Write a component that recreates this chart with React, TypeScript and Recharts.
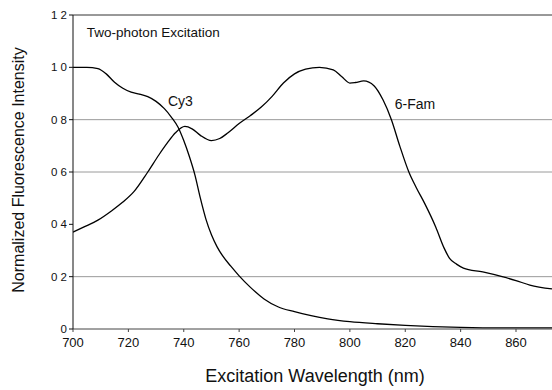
import { LineChart, Line, XAxis, YAxis, ReferenceLine, ReferenceDot } from "recharts";

// Cy3 two-photon excitation spectrum
const cy3Wavelength = [700, 705, 709, 712, 715, 718, 721, 724, 727, 730, 733, 735.5, 738, 740, 742, 744, 746, 748, 750, 752, 754, 757, 760, 764, 769, 774, 780, 786, 792, 800, 810, 820, 830, 840, 855, 873];
const cy3Intensity = [1.0, 1.0, 0.995, 0.975, 0.943, 0.92, 0.905, 0.898, 0.888, 0.87, 0.842, 0.81, 0.77, 0.72, 0.66, 0.59, 0.5, 0.42, 0.36, 0.315, 0.28, 0.24, 0.203, 0.16, 0.115, 0.085, 0.066, 0.051, 0.039, 0.028, 0.02, 0.014, 0.009, 0.006, 0.004, 0.004];

// 6-Fam two-photon excitation spectrum
const famWavelength = [700, 704, 709, 714, 718, 722, 727, 731, 734, 737, 740.4, 743, 746, 750, 753, 756, 760, 764, 768, 772, 776, 780, 784, 789, 794, 797, 800, 802, 805, 808.7, 812, 815, 818, 821.3, 824, 827, 831, 834, 836, 838.5, 841, 848, 855, 860, 865, 873];
const famIntensity = [0.37, 0.39, 0.416, 0.452, 0.485, 0.525, 0.6, 0.665, 0.71, 0.75, 0.774, 0.765, 0.74, 0.72, 0.728, 0.75, 0.785, 0.815, 0.848, 0.89, 0.94, 0.975, 0.993, 1.0, 0.99, 0.965, 0.94, 0.942, 0.948, 0.93, 0.875, 0.8, 0.7, 0.6, 0.54, 0.48, 0.39, 0.31, 0.27, 0.248, 0.233, 0.218, 0.2, 0.185, 0.168, 0.153];

const xTicks = [700, 720, 740, 760, 780, 800, 820, 840, 860];
const yTicks = [0, 0.2, 0.4, 0.6, 0.8, 1.0, 1.2];
const gridValues = [0.2, 0.6, 0.8];

const cy3Data = cy3Wavelength.map((x, i) => ({ x, y: cy3Intensity[i] }));
const famData = famWavelength.map((x, i) => ({ x, y: famIntensity[i] }));

const font = "'Liberation Sans', Arial, Helvetica, sans-serif";

// scanned labels lost their decimal points: "0 8", "1 0"
const formatY = (v: number) => (v === 0 ? "0" : v.toFixed(1).replace(".", " "));

function YTitle() {
  return (
    <text
      x={18}
      y={170}
      transform="rotate(-90 18 170)"
      textAnchor="middle"
      dominantBaseline="central"
      fontSize={16}
      fill="#111"
      fontFamily={font}
    >
      Normalized Fluorescence Intensity
    </text>
  );
}

function XTitle() {
  return (
    <text
      x={315}
      y={376}
      textAnchor="middle"
      dominantBaseline="central"
      fontSize={18}
      fill="#111"
      fontFamily={font}
    >
      Excitation Wavelength (nm)
    </text>
  );
}

export default function App() {
  return (
    <div style={{ position: "absolute", left: 0, top: 0, background: "#fff" }}>
      <LineChart
        width={552}
        height={390}
        margin={{ top: 15, right: 0, bottom: 0, left: 0 }}
        style={{ fontFamily: font }}
      >
        <XAxis
          type="number"
          dataKey="x"
          domain={[700, 873]}
          ticks={xTicks}
          allowDataOverflow
          height={61}
          tickSize={3}
          tickMargin={6}
          stroke="#444"
          tick={{ fill: "#111", fontSize: 13 }}
          label={{ content: () => <XTitle /> }}
        />
        <YAxis
          type="number"
          dataKey="y"
          domain={[0, 1.2]}
          ticks={yTicks}
          width={73}
          tickSize={4}
          tickMargin={2}
          stroke="#111"
          tickFormatter={formatY}
          tick={{ fill: "#111", fontSize: 11.5 }}
          label={{ content: () => <YTitle /> }}
        />
        {gridValues.map((v) => (
          <ReferenceLine key={v} y={v} stroke="#9a9a9a" strokeWidth={1} />
        ))}
        <ReferenceLine y={1.2} stroke="#333" strokeWidth={1} />
        <Line
          data={cy3Data}
          dataKey="y"
          type="monotone"
          stroke="#000"
          strokeWidth={1.3}
          dot={false}
          isAnimationActive={false}
        />
        <Line
          data={famData}
          dataKey="y"
          type="monotone"
          stroke="#000"
          strokeWidth={1.3}
          dot={false}
          isAnimationActive={false}
        />
        <ReferenceDot
          x={705}
          y={1.135}
          r={0}
          label={{ value: "Two-photon Excitation", position: "right", offset: 0, fill: "#111", fontSize: 13.5 }}
        />
        <ReferenceDot
          x={734.3}
          y={0.871}
          r={0}
          label={{ value: "Cy3", position: "right", offset: 0, fill: "#111", fontSize: 14 }}
        />
        <ReferenceDot
          x={816.2}
          y={0.86}
          r={0}
          label={{ value: "6-Fam", position: "right", offset: 0, fill: "#111", fontSize: 14 }}
        />
      </LineChart>
    </div>
  );
}
